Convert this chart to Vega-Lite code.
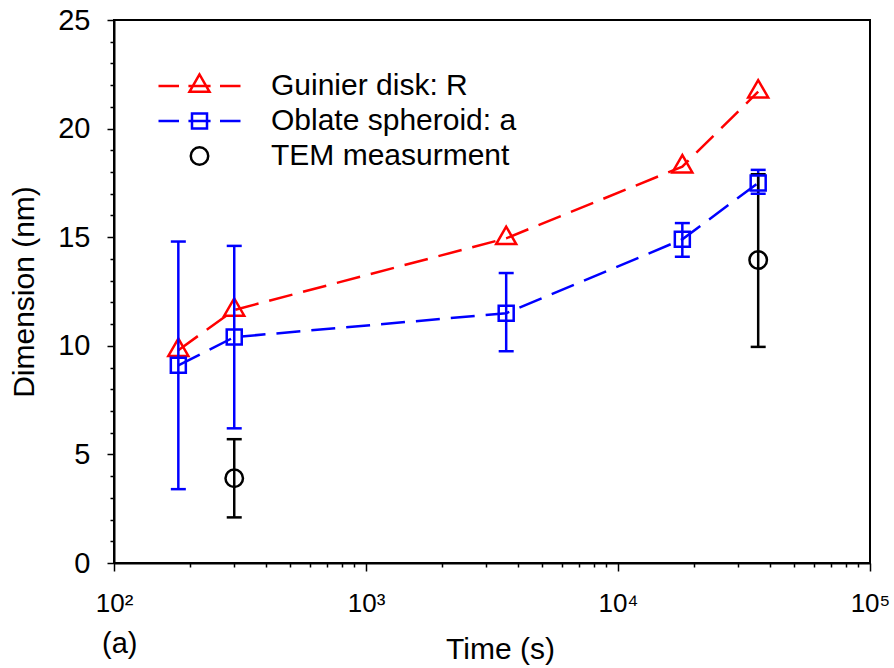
{
  "$schema": "https://vega.github.io/schema/vega-lite/v6.json",
  "width": 756,
  "height": 543,
  "autosize": {"type": "none"},
  "padding": {"left": 114, "top": 20, "right": 24, "bottom": 105},
  "background": "white",
  "config": {
    "font": "Liberation Sans",
    "view": {"stroke": "black", "strokeWidth": 2},
    "axis": {"grid": false, "domainColor": "black", "tickColor": "black", "labelColor": "black", "titleColor": "black", "labelFont": "Liberation Sans", "titleFont": "Liberation Sans", "titleFontWeight": "normal"},
    "legend": {"labelFont": "Liberation Sans"},
    "title": {"font": "Liberation Sans"}
  },
  "title": {"text": "(a)", "orient": "bottom", "anchor": "start", "frame": "group", "fontSize": 29, "fontWeight": "normal", "color": "black", "baseline": "alphabetic", "offset": 0, "dx": -12, "dy": -11},
  "data": {
    "values": [
      {"series": "Guinier disk: R", "time": 180, "value": 9.8},
      {"series": "Guinier disk: R", "time": 300, "value": 11.65},
      {"series": "Guinier disk: R", "time": 3600, "value": 14.95},
      {"series": "Guinier disk: R", "time": 18000, "value": 18.25},
      {"series": "Guinier disk: R", "time": 36000, "value": 21.7},
      {"series": "Oblate spheroid: a", "time": 180, "value": 9.1, "lo": 3.4, "hi": 14.8},
      {"series": "Oblate spheroid: a", "time": 300, "value": 10.4, "lo": 6.2, "hi": 14.6},
      {"series": "Oblate spheroid: a", "time": 3600, "value": 11.5, "lo": 9.75, "hi": 13.35},
      {"series": "Oblate spheroid: a", "time": 18000, "value": 14.9, "lo": 14.1, "hi": 15.65},
      {"series": "Oblate spheroid: a", "time": 36000, "value": 17.5, "lo": 17.0, "hi": 18.1},
      {"series": "TEM measurment", "time": 300, "value": 3.9, "lo": 2.1, "hi": 5.7},
      {"series": "TEM measurment", "time": 36000, "value": 13.95, "lo": 9.95, "hi": 17.9}
    ]
  },
  "resolve": {"axis": {"x": "independent", "y": "independent"}},
  "layer": [
    {
      "transform": [{"filter": "datum.series == 'Guinier disk: R'"}],
      "mark": {"type": "line", "color": "#ff0000", "strokeWidth": 2.5, "strokeDash": [24, 11]},
      "encoding": {
        "x": {"field": "time", "type": "quantitative", "scale": {"type": "log", "domain": [100, 100000], "nice": false},
          "axis": {"orient": "bottom", "values": [100, 1000, 10000, 100000], "labelExpr": "'10' + (datum.value == 100 ? '²' : datum.value == 1000 ? '³' : datum.value == 10000 ? '⁴' : '⁵')", "labelFontSize": 26, "labelPadding": 19, "tickSize": 8, "tickWidth": 1.5, "domainWidth": 2, "labelFlush": false, "labelOverlap": false, "title": "Time (s)", "titleFontSize": 30, "titleX": 386, "titleY": 95, "titleBaseline": "alphabetic", "titleAlign": "center"}},
        "y": {"field": "value", "type": "quantitative", "scale": {"domain": [0, 25], "nice": false, "zero": true},
          "axis": {"orient": "left", "values": [0, 5, 10, 15, 20, 25], "labelFontSize": 29, "labelPadding": 17, "tickSize": 7, "tickWidth": 1.5, "domainWidth": 2, "labelFlush": false, "labelOverlap": false, "title": "Dimension (nm)", "titleFontSize": 30, "titleAngle": -90, "titleX": -81, "titleY": 271.5, "titleAlign": "center", "titleBaseline": "alphabetic"}}
      }
    },
    {
      "transform": [{"filter": "datum.series == 'Guinier disk: R'"}],
      "mark": {"type": "point", "shape": "M0,-1.155L-1,0.577L1,0.577Z", "size": 400, "filled": false, "color": "#ff0000", "strokeWidth": 2.5, "opacity": 1},
      "encoding": {
        "x": {"field": "time", "type": "quantitative",
          "axis": {"orient": "bottom", "values": [200, 300, 400, 500, 600, 700, 800, 900, 2000, 3000, 4000, 5000, 6000, 7000, 8000, 9000, 20000, 30000, 40000, 50000, 60000, 70000, 80000, 90000], "labels": false, "domain": false, "tickSize": 4, "tickWidth": 1.5, "title": null}},
        "y": {"field": "value", "type": "quantitative",
          "axis": {"orient": "left", "values": [1, 2, 3, 4, 6, 7, 8, 9, 11, 12, 13, 14, 16, 17, 18, 19, 21, 22, 23, 24], "labels": false, "domain": false, "tickSize": 4, "tickWidth": 1.5, "title": null}}
      }
    },
    {
      "transform": [{"filter": "datum.series == 'Oblate spheroid: a'"}],
      "mark": {"type": "line", "color": "#0000ff", "strokeWidth": 2.5, "strokeDash": [24, 11]},
      "encoding": {
        "x": {"field": "time", "type": "quantitative", "axis": null},
        "y": {"field": "value", "type": "quantitative", "axis": null}
      }
    },
    {
      "transform": [{"filter": "datum.series != 'Guinier disk: R'"}],
      "mark": {"type": "rule", "strokeWidth": 2.5},
      "encoding": {
        "x": {"field": "time", "type": "quantitative", "axis": null},
        "y": {"field": "lo", "type": "quantitative", "axis": null},
        "y2": {"field": "hi"},
        "color": {"condition": {"test": "datum.series == 'TEM measurment'", "value": "#000000"}, "value": "#0000ff"}
      }
    },
    {
      "transform": [{"filter": "datum.series != 'Guinier disk: R'"}],
      "mark": {"type": "tick", "orient": "horizontal", "size": 15, "thickness": 2.5, "opacity": 1},
      "encoding": {
        "x": {"field": "time", "type": "quantitative", "axis": null},
        "y": {"field": "lo", "type": "quantitative", "axis": null},
        "color": {"condition": {"test": "datum.series == 'TEM measurment'", "value": "#000000"}, "value": "#0000ff"}
      }
    },
    {
      "transform": [{"filter": "datum.series != 'Guinier disk: R'"}],
      "mark": {"type": "tick", "orient": "horizontal", "size": 15, "thickness": 2.5, "opacity": 1},
      "encoding": {
        "x": {"field": "time", "type": "quantitative", "axis": null},
        "y": {"field": "hi", "type": "quantitative", "axis": null},
        "color": {"condition": {"test": "datum.series == 'TEM measurment'", "value": "#000000"}, "value": "#0000ff"}
      }
    },
    {
      "transform": [{"filter": "datum.series == 'Oblate spheroid: a'"}],
      "mark": {"type": "point", "shape": "square", "size": 225, "filled": false, "color": "#0000ff", "strokeWidth": 2.5, "opacity": 1},
      "encoding": {
        "x": {"field": "time", "type": "quantitative", "axis": null},
        "y": {"field": "value", "type": "quantitative", "axis": null}
      }
    },
    {
      "transform": [{"filter": "datum.series == 'TEM measurment'"}],
      "mark": {"type": "point", "shape": "circle", "size": 306, "filled": false, "color": "black", "strokeWidth": 2.5, "opacity": 1},
      "encoding": {
        "x": {"field": "time", "type": "quantitative", "axis": null},
        "y": {"field": "value", "type": "quantitative", "axis": null}
      }
    },
    {
      "transform": [{"filter": "false"}],
      "mark": {"type": "point", "filled": false, "strokeWidth": 2.5, "opacity": 1, "size": 6724},
      "encoding": {
        "color": {"field": "series", "type": "nominal",
          "scale": {"domain": ["Guinier disk: R", "Oblate spheroid: a", "TEM measurment"], "range": ["#ff0000", "#0000ff", "#000000"]},
          "legend": {"title": null, "orient": "none", "legendX": 43, "legendY": 51, "padding": 0, "symbolSize": 6724, "symbolStrokeWidth": 2.5, "symbolFillColor": "transparent", "labelFontSize": 30, "labelColor": "black", "labelOffset": 29, "labelLimit": 500, "clipHeight": 30, "rowPadding": 5}},
        "shape": {"field": "series", "type": "nominal",
          "scale": {"domain": ["Guinier disk: R", "Oblate spheroid: a", "TEM measurment"], "range": ["M-1,0H-0.5M-0.27,0H0.27M0.5,0H1M0,-0.282L-0.244,0.141L0.244,0.141Z", "M-1,0H-0.5M-0.27,0H0.27M0.5,0H1M-0.183,-0.183H0.183V0.183H-0.183Z", "M0.213,0A0.213,0.213,0,1,1,-0.213,0A0.213,0.213,0,1,1,0.213,0Z"]},
          "legend": {"title": null, "orient": "none", "legendX": 43, "legendY": 51, "padding": 0, "symbolSize": 6724, "symbolStrokeWidth": 2.5, "symbolFillColor": "transparent", "labelFontSize": 30, "labelColor": "black", "labelOffset": 29, "labelLimit": 500, "clipHeight": 30, "rowPadding": 5}}
      }
    }
  ]
}
